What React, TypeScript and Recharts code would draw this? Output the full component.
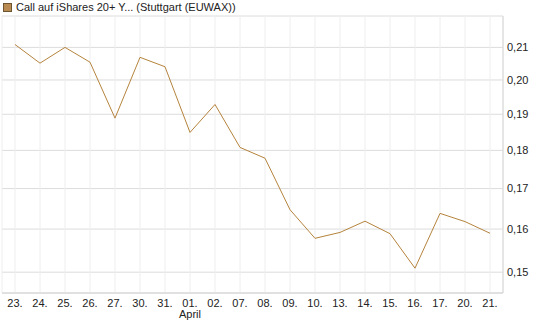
import React from 'react'
import {
  LineChart,
  Line,
  XAxis,
  YAxis,
  CartesianGrid
} from 'recharts'

const dates = [
  '23.', '24.', '25.', '26.', '27.', '30.', '31.', '01.', '02.', '07.',
  '08.', '09.', '10.', '13.', '14.', '15.', '16.', '17.', '20.', '21.'
]
const months = ['', '', '', '', '', '', '', 'April', '', '', '', '', '', '', '', '', '', '', '', '']
const prices = [
  0.2109, 0.2051, 0.21, 0.2054, 0.1889, 0.2069, 0.204, 0.1849, 0.1928, 0.1808,
  0.1779, 0.1647, 0.1578, 0.1592, 0.1619, 0.1589, 0.1509, 0.1638, 0.1618, 0.159
]
const yTicks = [0.15, 0.16, 0.17, 0.18, 0.19, 0.2, 0.21]
const seriesName = 'Call auf iShares 20+ Y... (Stuttgart (EUWAX))'

const lineColor = '#b5833d'
const font = '"Liberation Sans", Arial, sans-serif'

const data = dates.map((d, i) => ({ date: d, month: months[i], price: prices[i] }))

// date label plus the month name underneath where a new month starts
const DateTick = ({ x, y, payload, index }: any) => (
  <g>
    <text x={x} y={y + 6} textAnchor="middle" fontSize={11} fill="#222" fontFamily={font}>
      {payload.value}
    </text>
    {months[index] ? (
      <text x={x} y={y + 17} textAnchor="middle" fontSize={11} fill="#222" fontFamily={font}>
        {months[index]}
      </text>
    ) : null}
  </g>
)

export default function App() {
  return (
    <div style={{ position: 'absolute', left: 0, top: 0, width: 545, height: 327, background: '#fff' }}>
      <div
        style={{
          position: 'absolute',
          left: 3,
          top: 1,
          display: 'flex',
          alignItems: 'center',
          fontFamily: font,
          fontSize: 11,
          color: '#222',
          lineHeight: '13px'
        }}
      >
        <span
          style={{
            display: 'inline-block',
            width: 7,
            height: 7,
            background: '#b98b52',
            border: '1px solid #6e5531',
            marginRight: 4
          }}
        />
        {seriesName}
      </div>
      <LineChart
        width={545}
        height={327}
        data={data}
        margin={{ top: 16, right: 2, left: 2, bottom: 0 }}
      >
        <CartesianGrid vertical={false} stroke="#dcdcdc" yAxisId="price" />
        <CartesianGrid horizontal={false} stroke="#eeeeee" yAxisId="price" />
        <XAxis
          dataKey="date"
          height={34}
          padding={{ left: 13, right: 13 }}
          axisLine={{ stroke: '#d4d4d4' }}
          tickLine={false}
          tick={<DateTick />}
          interval={0}
        />
        <XAxis
          xAxisId="top"
          dataKey="date"
          orientation="top"
          height={0}
          tick={false}
          tickLine={false}
          axisLine={{ stroke: '#d4d4d4' }}
        />
        <YAxis
          yAxisId="frame"
          orientation="left"
          width={0}
          tick={false}
          tickLine={false}
          axisLine={{ stroke: '#d4d4d4' }}
        />
        <YAxis
          yAxisId="price"
          orientation="right"
          width={40}
          type="number"
          scale="log"
          domain={[0.1454, 0.2201]}
          allowDataOverflow
          ticks={yTicks}
          interval={0}
          axisLine={{ stroke: '#d4d4d4' }}
          tickLine={false}
          tickSize={2}
          tickMargin={2}
          tick={{ fontSize: 11, fill: '#222', fontFamily: font, textAnchor: 'start' }}
          tickFormatter={(v: number) => v.toFixed(2).replace('.', ',')}
        />
        <Line
          yAxisId="price"
          type="linear"
          dataKey="price"
          name={seriesName}
          stroke={lineColor}
          strokeWidth={1}
          dot={false}
          isAnimationActive={false}
        />
      </LineChart>
    </div>
  )
}
